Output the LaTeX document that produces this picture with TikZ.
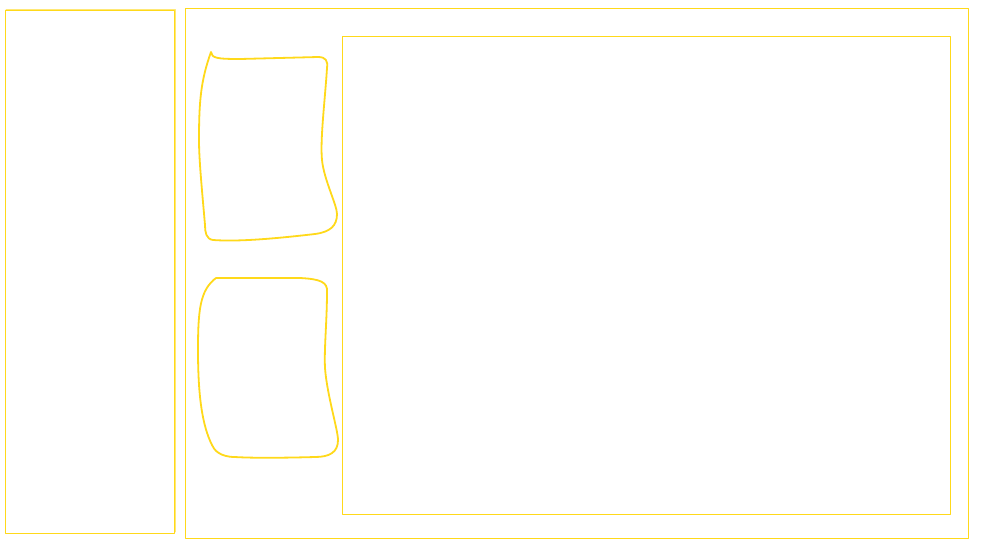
\documentclass[tikz,border=0pt]{standalone}
\begin{document}
\begin{tikzpicture}[x=1pt,y=-1pt,
  sk/.style={draw=yellowline,line width=1pt,line join=round,line cap=round},
  pen/.style={draw=yellowline,line width=1.8pt,line join=round,line cap=round}]
\definecolor{yellowline}{HTML}{FFD91A}
\useasboundingbox[fill=white] (0,0) rectangle (982,550);
% left panel
\draw[sk] (5,10) rectangle (174,533);
\draw[sk,line width=0.6pt,opacity=0.6] (6,9) -- (175,9) -- (175,532);
% outer frame
\draw[sk] (185,8) rectangle (968,538);
% inner canvas
\draw[sk] (342,36) rectangle (950,514);
% sketch shape 1
\draw[pen] (211,52) .. controls (212,58) and (216,59) .. (240,59)
  -- (318,57) .. controls (326,57) and (328,61) .. (327,68)
  .. controls (325,100) and (320,140) .. (322,160)
  .. controls (324,180) and (337,205) .. (337,214)
  .. controls (337,226) and (330,232) .. (315,234)
  .. controls (280,238) and (240,242) .. (213,240)
  .. controls (206,239) and (205,232) .. (205,225)
  .. controls (202,190) and (199,160) .. (199,140)
  .. controls (199,100) and (201,80) .. (211,52);
% sketch shape 2
\draw[pen] (216,278) -- (300,278)
  .. controls (320,279) and (328,282) .. (327,292)
  .. controls (327,320) and (324,350) .. (325,368)
  .. controls (327,395) and (338,430) .. (338,440)
  .. controls (338,452) and (330,457) .. (315,457)
  .. controls (280,458) and (250,458) .. (235,457)
  .. controls (220,457) and (214,450) .. (212,445)
  .. controls (202,425) and (198,395) .. (198,350)
  .. controls (198,310) and (200,290) .. (216,278);
\end{tikzpicture}
\end{document}
